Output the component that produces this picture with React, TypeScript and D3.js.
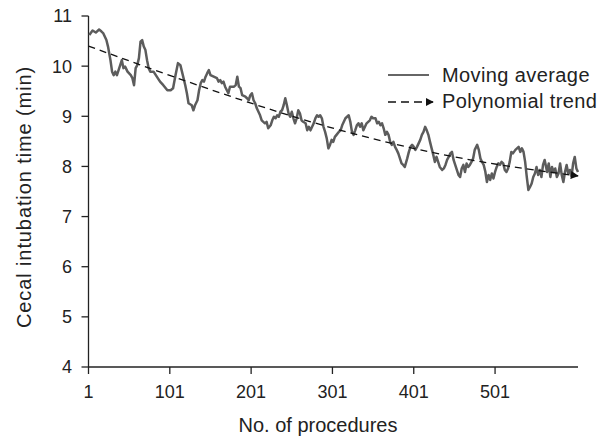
import React from 'react';
import * as d3 from 'd3';

// moving average (procedure no. / minutes)
const procedures = [
  2, 6, 10, 14, 17, 19, 23, 25, 28, 30, 32, 34, 36, 40, 42, 44, 46, 49, 53, 55, 57, 59, 61, 63, 65, 67, 69, 71, 73, 75, 77, 81, 85, 89, 93, 98, 102, 105, 108, 111, 114, 117, 120,
  122, 124, 128, 130, 132, 135, 137, 139, 141, 143, 145, 147, 149, 151, 155, 159, 161, 163, 165, 167, 169, 173, 175, 180, 182, 184, 186, 188, 190, 194, 196, 198, 200, 202, 204, 206, 208, 210, 212, 214, 216, 218, 220, 222, 225, 227, 229, 231, 233, 235, 237, 239, 241, 243,
  245, 247, 249, 251, 253, 255, 257, 259, 261, 263, 265, 268, 270, 272, 274, 276, 278, 280, 282, 284, 286, 288, 290, 292, 294, 296, 298, 300, 302, 304, 306, 309, 311, 313, 315, 317, 319, 321, 323, 325, 327, 329, 331, 333, 335, 337, 339, 341, 343, 345, 347, 349, 351, 354, 356, 358, 360, 362, 364, 366,
  368, 370, 372, 374, 376, 378, 380, 382, 384, 386, 388, 390, 393, 395, 397, 399, 401, 403, 405, 407, 409, 411, 413, 415, 417, 419, 421, 423, 425, 427, 429, 431, 433, 436, 438, 440, 442, 444, 446, 448, 450, 452, 454, 456, 458, 460, 462, 464, 466, 468, 470, 472, 474, 476, 479, 481, 483, 485, 487, 489,
  491, 493, 495, 497, 499, 501, 503, 505, 507, 509, 511, 513, 515, 517, 519, 521, 523, 526, 528, 530, 532, 534, 536, 538, 540, 542, 544, 546, 548, 550, 552, 554, 556, 558, 560, 562, 565, 567, 569, 571, 573, 575, 577, 579, 581, 583, 585, 587, 589, 591, 593, 595, 597, 599, 601, 603,
];
const movingAvg = [
  10.62, 10.71, 10.67, 10.73, 10.69, 10.66, 10.52, 10.39, 10.12, 9.89, 9.82, 9.89, 9.82, 10.02, 10.12, 9.96, 9.99, 9.89, 9.82, 9.76, 9.62, 9.96, 10.02, 10.16, 10.49, 10.52, 10.39, 10.32, 10.12, 9.96, 9.89, 9.89, 9.79, 9.69, 9.62, 9.52, 9.52, 9.56, 9.82, 10.06, 10.02, 9.82, 9.62,
  9.46, 9.26, 9.22, 9.12, 9.22, 9.32, 9.52, 9.66, 9.72, 9.69, 9.79, 9.86, 9.92, 9.82, 9.79, 9.76, 9.69, 9.72, 9.66, 9.69, 9.59, 9.46, 9.59, 9.59, 9.62, 9.79, 9.59, 9.56, 9.42, 9.39, 9.36, 9.32, 9.42, 9.46, 9.32, 9.26, 9.16, 9.09, 9.02, 8.92, 8.89, 8.86, 8.89, 8.76, 8.82, 8.92, 8.99, 8.96, 9.02, 8.99, 9.09, 9.12, 9.22, 9.36,
  9.22, 9.06, 8.99, 9.09, 8.96, 8.86, 8.96, 9.12, 9.06, 8.92, 8.89, 8.86, 8.72, 8.79, 8.72, 8.79, 8.86, 8.96, 9.02, 8.99, 9.02, 8.96, 8.79, 8.69, 8.56, 8.36, 8.43, 8.53, 8.49, 8.59, 8.63, 8.69, 8.72, 8.82, 8.89, 8.96, 8.99, 9.02, 8.89, 8.69, 8.63, 8.72, 8.82, 8.86, 8.79, 8.86, 8.72, 8.79, 8.86, 8.89, 8.92, 8.99, 8.96, 8.96, 8.86, 8.89, 8.82, 8.86, 8.76, 8.63,
  8.69, 8.63, 8.49, 8.43, 8.49, 8.39, 8.33, 8.26, 8.16, 8.06, 8.03, 7.99, 8.16, 8.29, 8.39, 8.43, 8.39, 8.33, 8.39, 8.46, 8.53, 8.63, 8.69, 8.79, 8.72, 8.63, 8.49, 8.36, 8.23, 8.09, 8.19, 8.09, 7.99, 7.93, 7.96, 8.03, 8.13, 8.19, 8.26, 8.29, 8.13, 8.03, 7.93, 7.83, 7.79, 7.96, 8.03, 7.89, 8.06, 7.99, 8.03, 8.09, 8.16, 8.33, 8.43, 8.33, 8.16, 8.09, 8.03, 7.9,
  7.69, 7.83, 7.73, 7.86, 7.76, 7.89, 7.99, 8.06, 8.03, 8.09, 8.06, 7.93, 7.89, 7.96, 8.09, 8.29, 8.26, 8.33, 8.36, 8.39, 8.29, 8.36, 8.29, 8.09, 7.79, 7.53, 7.59, 7.66, 7.79, 7.86, 7.99, 7.83, 7.93, 7.79, 8.03, 8.13, 7.89, 8.06, 7.79, 7.99, 7.89, 7.96, 7.79, 7.86, 8.06, 7.83, 7.69, 7.89, 8.03, 7.86, 7.93, 7.79, 8.06, 8.19, 7.96, 7.89,
];

// polynomial trend, sampled from the dashed line
const trendProcedures = [1, 139, 298, 458, 603];
const trendValues = [10.4, 9.6, 8.78, 8.17, 7.81];

const xTicks = [1, 101, 201, 301, 401, 501];
const yTicks = [4, 5, 6, 7, 8, 9, 10, 11];

const width = 609;
const height = 438;
const font = "'Liberation Sans', Arial, sans-serif";
const ink = '#222';

const App: React.FC = () => {
  const x = d3.scaleLinear().domain([1, 603]).range([88.5, 578]);
  const y = d3.scaleLinear().domain([4, 11]).range([367, 16]);

  const avgLine = d3
    .line<number>()
    .x((_, i) => x(procedures[i]))
    .y((d) => y(d));

  const trendLine = d3
    .line<number>()
    .x((_, i) => x(trendProcedures[i]))
    .y((d) => y(d))
    .curve(d3.curveNatural);

  return (
    <svg
      width={width}
      height={height}
      style={{ position: 'absolute', left: 0, top: 0, background: '#fff' }}
      fontFamily={font}
    >
      <defs>
        <marker id="arrow" viewBox="0 0 10 10" refX="9" refY="5" markerWidth="8" markerHeight="8" orient="auto" markerUnits="userSpaceOnUse">
          <path d="M0,0 L10,5 L0,10 z" fill="#111" />
        </marker>
      </defs>

      {/* axes */}
      <line x1={x(1)} x2={x(1)} y1={y(11)} y2={y(4)} stroke={ink} strokeWidth={1.3} />
      <line x1={x(1)} x2={x(603)} y1={y(4)} y2={y(4)} stroke={ink} strokeWidth={1.3} />
      {yTicks.map((t) => (
        <g key={t}>
          <line x1={x(1) - 7} x2={x(1)} y1={y(t)} y2={y(t)} stroke={ink} strokeWidth={1.3} />
          <text x={72} y={y(t)} dy="0.36em" textAnchor="end" fontSize={18} fill={ink}>
            {t}
          </text>
        </g>
      ))}
      {xTicks.map((t) => (
        <g key={t}>
          <line x1={x(t)} x2={x(t)} y1={y(4)} y2={y(4) + 7} stroke={ink} strokeWidth={1.3} />
          <text x={x(t)} y={398} textAnchor="middle" fontSize={18} fill={ink}>
            {t}
          </text>
        </g>
      ))}
      <text x={318} y={432} textAnchor="middle" fontSize={20} fill={ink}>
        No. of procedures
      </text>
      <text transform="translate(31,197) rotate(-90)" textAnchor="middle" fontSize={20} letterSpacing={0.9} fill={ink}>
        Cecal intubation time (min)
      </text>

      {/* series */}
      <path d={avgLine(movingAvg) || ''} fill="none" stroke="#5c5c5c" strokeWidth={2.5} strokeLinejoin="round" />
      <path
        d={trendLine(trendValues) || ''}
        fill="none"
        stroke="#111"
        strokeWidth={1.3}
        strokeDasharray="7,5"
        markerEnd="url(#arrow)"
      />

      {/* legend */}
      <line x1={388} x2={429} y1={75} y2={75} stroke="#333" strokeWidth={1.3} />
      <text x={442} y={82} fontSize={20} letterSpacing={0.4} fill={ink}>Moving average</text>
      <line x1={388} x2={433} y1={102} y2={102} stroke="#111" strokeWidth={1.3} strokeDasharray="8,5" markerEnd="url(#arrow)" />
      <text x={442} y={108} fontSize={20} letterSpacing={0.4} fill={ink}>Polynomial trend</text>
    </svg>
  );
};

export default App;
